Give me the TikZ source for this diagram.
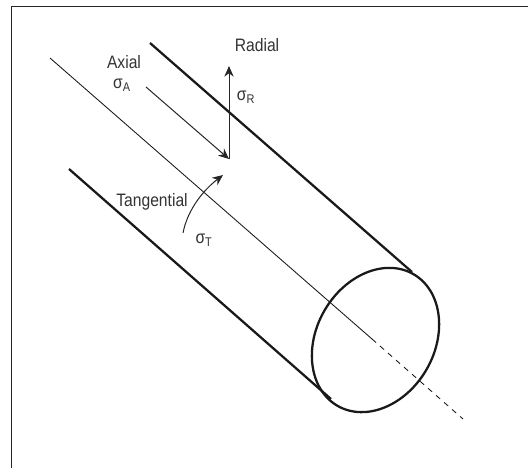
\documentclass[tikz,border=0pt]{standalone}
\usepackage{fontspec}
\setmainfont{Liberation Sans}
\usepackage{tikz}
\usetikzlibrary{arrows.meta,positioning,calc}

\tikzset{
    wall/.style={line width=1.7pt,black!90},
    axisline/.style={line width=0.65pt,black!90},
    stress/.style={->,line width=0.75pt,black!85},
    lbl/.style={inner sep=0pt,xscale=0.87,font=\fontsize{13.5pt}{15pt}\selectfont,text=black!80}
}

\begin{document}
\begin{tikzpicture}[>={Stealth[length=8pt,width=7pt]},x=0.75pt,y=-0.75pt]
    \useasboundingbox (0,0) rectangle (528,468);

    % Frame
    \draw[line width=1.2pt,black!85] (11.5,468) -- (11.5,6.5) -- (528,6.5);

    % Pipe
    \coordinate (topstart) at (150,43);
    \coordinate (topend) at (412,272);
    \coordinate (botstart) at (69,169);
    \coordinate (botend) at (331,399);
    \draw[wall] (topstart) -- (topend);
    \draw[wall] (botstart) -- (botend);
    \draw[wall] (375.5,340) circle[x radius=57pt,y radius=44.2pt,rotate=60];

    % Center line
    \coordinate (axisstart) at (50,58);
    \coordinate (axismid) at (372,339);
    \coordinate (axisend) at (463,419);
    \draw[axisline] (axisstart) -- (axismid);
    \draw[axisline,dash pattern=on 4pt off 4pt] (axismid) -- (axisend);

    % Stresses
    \coordinate (stresspt) at (229,159);
    \coordinate (radialtip) at (229,66);
    \coordinate (axialstart) at (146,87);
    \coordinate (tangstart) at (183,233);
    \coordinate (tangend) at (223,175);
    \draw[stress] (stresspt) -- (radialtip);
    \draw[stress] (axialstart) -- (stresspt);
    \draw[stress] (tangstart) .. controls (187,212) and (201,192) .. (tangend);

    % Labels
    \node[lbl] (radiallabel) at (257,45) {Radial};
    \node[lbl] (sigmar) at (246,97) {σ\textsubscript{R}};
    \node[lbl] (axiallabel) at (124,62) {Axial};
    \node[lbl] (sigmaa) at (122,85) {σ\textsubscript{A}};
    \node[lbl] (tanglabel) at (152,202) {Tangential};
    \node[lbl] (sigmat) at (204,240) {σ\textsubscript{T}};
\end{tikzpicture}
\end{document}
